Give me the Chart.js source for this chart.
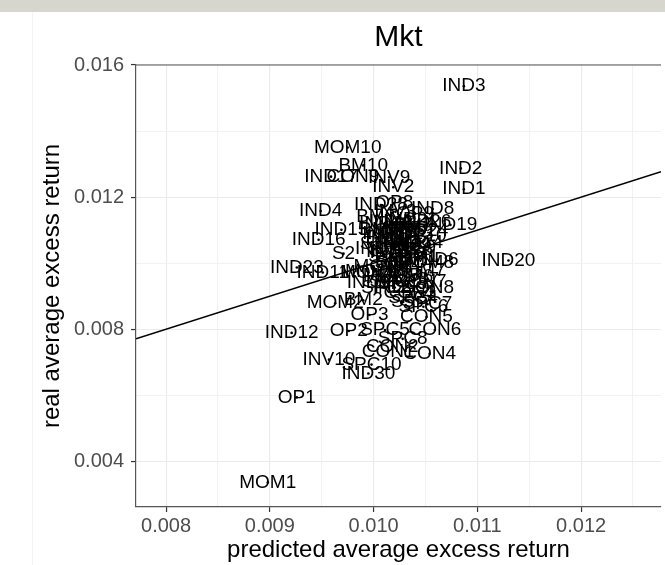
<!DOCTYPE html>
<html>
<head>
<meta charset="utf-8">
<script src="https://cdn.jsdelivr.net/npm/chart.js@4.4.1/dist/chart.umd.min.js"></script>
<style>
  html, body { margin: 0; padding: 0; background: #fff; overflow: hidden; }
  #band { height: 12px; background: #d6d6ce; }
  #wrap { position: relative; width: 665px; height: 553px; }
  #edge { position: absolute; left: 32px; top: 0; width: 1px; height: 553px; background: #f4f4f4; }
  canvas { position: absolute; left: 0; top: 0; }
</style>
</head>
<body>
<div id="band"></div>
<div id="wrap"><div id="edge"></div><canvas id="chart" width="665" height="553"></canvas></div>
<script>
// test assets: predicted vs real average excess return
const names = [
  'IND3', 'MOM10', 'BM10', 'IND17', 'CON9', 'INV9', 'INV2', 'IND2', 'IND1', 'IND4',
  'IND28', 'OP8', 'IND8', 'IND19', 'IND15', 'IND16', 'S2', 'IND23', 'IND11', 'MOM9',
  'IND6', 'IND20', 'IND9', 'IND5', 'S7', 'S4', 'MOM2', 'BM2', 'S5', 'SPC7',
  'OP3', 'CON5', 'OP2', 'SPC5', 'CON6', 'SPC8', 'CON2', 'CON1', 'CON4', 'IND12',
  'INV10', 'SPC10', 'IND30', 'OP1', 'MOM1',
  'IND7', 'IND10', 'IND13', 'IND14', 'IND18', 'IND21', 'IND22', 'IND24', 'IND25', 'IND26',
  'IND27', 'IND29', 'BM1', 'BM3', 'BM4', 'BM5', 'BM6', 'BM7', 'BM8', 'OP4',
  'OP5', 'OP6', 'OP7', 'OP9', 'OP10', 'INV1', 'INV3', 'INV4', 'INV5', 'INV6',
  'INV7', 'INV8', 'MOM3', 'MOM4', 'MOM5', 'MOM6', 'MOM7', 'MOM8', 'S1', 'S3',
  'S6', 'S8', 'S9', 'S10', 'CON3', 'CON7', 'CON8', 'SPC1', 'SPC2', 'SPC3',
  'SPC4', 'SPC6'
];
const predicted = [
  0.01087, 0.00975, 0.00990, 0.00959, 0.00980, 0.01015, 0.01019, 0.01084, 0.01087, 0.00949,
  0.01007, 0.01020, 0.01057, 0.01074, 0.00969, 0.00947, 0.00971, 0.00926, 0.00951, 0.00995,
  0.01061, 0.01130, 0.00995, 0.01020, 0.01052, 0.01047, 0.00963, 0.00990, 0.01028, 0.01052,
  0.00996, 0.01051, 0.00976, 0.01011, 0.01059, 0.01028, 0.01018, 0.01014, 0.01054, 0.00921,
  0.00957, 0.00998, 0.00995, 0.00926, 0.00898,
  0.01025, 0.01018, 0.01032, 0.01041, 0.01012, 0.01036, 0.01008, 0.01046, 0.01022, 0.01049,
  0.01015, 0.01030, 0.01044, 0.01020, 0.01027, 0.01011, 0.01005, 0.01038, 0.01002, 0.01028,
  0.01023, 0.01033, 0.01019, 0.01040, 0.01047, 0.01035, 0.01021, 0.01016, 0.01031, 0.01037,
  0.01024, 0.01013, 0.01000, 0.01008, 0.01017, 0.01030, 0.01042, 0.01050, 0.01006, 0.01040,
  0.01026, 0.01012, 0.01049, 0.01003, 0.01035, 0.01045, 0.01052, 0.01020, 0.01012, 0.01028,
  0.01038, 0.01048
];
const real = [
  0.01536, 0.01350, 0.01296, 0.01262, 0.01262, 0.01260, 0.01230, 0.01287, 0.01224, 0.01158,
  0.01176, 0.01182, 0.01164, 0.01116, 0.01101, 0.01071, 0.01029, 0.00987, 0.00972, 0.00972,
  0.01011, 0.01008, 0.00942, 0.00927, 0.00951, 0.00909, 0.00879, 0.00888, 0.00882, 0.00876,
  0.00843, 0.00837, 0.00795, 0.00798, 0.00798, 0.00771, 0.00747, 0.00732, 0.00726, 0.00789,
  0.00708, 0.00693, 0.00666, 0.00594, 0.00336,
  0.01105, 0.01072, 0.01088, 0.01061, 0.01118, 0.01132, 0.01045, 0.01098, 0.01031, 0.01125,
  0.01090, 0.01052, 0.01020, 0.01010, 0.01066, 0.01078, 0.01101, 0.01113, 0.01142, 0.00994,
  0.01040, 0.01076, 0.01098, 0.01150, 0.01083, 0.01010, 0.01156, 0.01124, 0.01103, 0.01042,
  0.01058, 0.01035, 0.00975, 0.00990, 0.00962, 0.00960, 0.00978, 0.01002, 0.01020, 0.01030,
  0.00985, 0.01002, 0.01048, 0.01060, 0.00912, 0.00945, 0.00925, 0.00945, 0.00925, 0.00938,
  0.00895, 0.00868
];

const xRange = [0.00771, 0.01277];
const yRange = [0.00262, 0.016];
const xTicks = [0.008, 0.0085, 0.009, 0.0095, 0.010, 0.0105, 0.011, 0.0115, 0.012, 0.0125];
const xMajor = [0.008, 0.009, 0.010, 0.011, 0.012];
const yTicks = [0.004, 0.006, 0.008, 0.010, 0.012, 0.014, 0.016];
const yMajor = [0.004, 0.008, 0.012, 0.016];

const FONT = 'Liberation Sans, Arial, Helvetica, sans-serif';
const isIn = (list, v) => list.some(m => Math.abs(m - v) < 1e-9);

const points = predicted.map((x, i) => ({ x: x, y: real[i] }));
// 45 degree line across the panel
const diagonal = [{ x: xRange[0], y: xRange[0] }, { x: xRange[1], y: xRange[1] }];

const pointLabels = {
  id: 'pointLabels',
  afterDatasetDraw(chart, args) {
    if (args.index !== 1) return;
    const ctx = chart.ctx;
    ctx.save();
    ctx.font = '19px ' + FONT;
    ctx.fillStyle = '#000';
    ctx.textAlign = 'center';
    ctx.textBaseline = 'middle';
    args.meta.data.forEach((el, i) => {
      ctx.fillText(names[i], el.x, el.y);
    });
    ctx.restore();
  }
};

const topBorder = {
  id: 'topBorder',
  afterDraw(chart) {
    const a = chart.chartArea;
    const ctx = chart.ctx;
    ctx.save();
    ctx.strokeStyle = '#555';
    ctx.lineWidth = 1.2;
    ctx.beginPath();
    ctx.moveTo(a.left, a.top);
    ctx.lineTo(a.right, a.top);
    ctx.stroke();
    ctx.restore();
  }
};

function axisStyle(ticks, majors) {
  return {
    type: 'linear',
    afterBuildTicks: axis => { axis.ticks = ticks.map(v => ({ value: v })); },
    grid: {
      color: c => (c.tick && isIn(majors, c.tick.value)) ? '#ebebeb' : '#f2f2f2',
      lineWidth: 1.1,
      tickLength: 5,
      tickColor: c => (c.tick && isIn(majors, c.tick.value)) ? '#333' : 'rgba(0,0,0,0)',
      tickWidth: 1.2
    },
    border: { display: true, color: '#555', width: 1.2 },
    ticks: {
      autoSkip: false,
      maxRotation: 0,
      color: '#4d4d4d',
      font: { family: FONT, size: 20 },
      callback: v => isIn(majors, v) ? v.toFixed(3) : ''
    }
  };
}

const xAxis = axisStyle(xTicks, xMajor);
xAxis.min = xRange[0];
xAxis.max = xRange[1];
xAxis.ticks.padding = 2;
xAxis.afterFit = s => { s.height = 58; };
xAxis.title = {
  display: true, text: 'predicted average excess return', color: '#000',
  font: { family: FONT, size: 24 }, padding: { top: 0, bottom: 0 }
};

const yAxis = axisStyle(yTicks, yMajor);
yAxis.min = yRange[0];
yAxis.max = yRange[1];
yAxis.ticks.padding = 7;
yAxis.afterFit = s => { s.width = 136; };
yAxis.title = {
  display: true, text: 'real average excess return', color: '#000',
  font: { family: FONT, size: 24 }, padding: { top: 38, bottom: 0 }
};

new Chart(document.getElementById('chart'), {
  type: 'scatter',
  data: {
    datasets: [
      {
        type: 'line',
        data: diagonal,
        borderColor: '#000',
        borderWidth: 1.6,
        pointRadius: 0,
        fill: false
      },
      {
        data: points,
        pointRadius: 1.3,
        pointBackgroundColor: '#000',
        pointBorderWidth: 0
      }
    ]
  },
  options: {
    responsive: false,
    animation: false,
    layout: { padding: 0 },
    plugins: {
      legend: { display: false },
      tooltip: { enabled: false },
      title: {
        display: true,
        text: 'Mkt',
        fullSize: false,
        color: '#000',
        font: { family: FONT, size: 30, weight: 'normal' },
        padding: { top: 8, bottom: 9 }
      }
    },
    scales: { x: xAxis, y: yAxis }
  },
  plugins: [pointLabels, topBorder]
});
</script>
</body>
</html>
